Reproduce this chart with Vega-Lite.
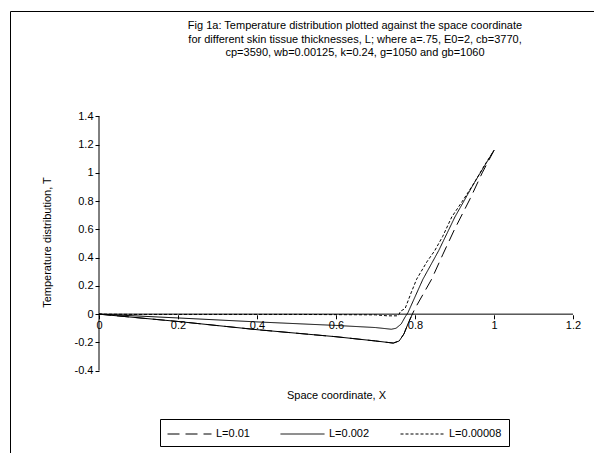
{
  "$schema": "https://vega.github.io/schema/vega-lite/v6.json",
  "width": 586,
  "height": 445,
  "autosize": {"type": "none"},
  "padding": {"left": 10, "top": 11, "right": -2, "bottom": -2},
  "background": "white",
  "config": {
    "view": {"stroke": "black", "strokeWidth": 1},
    "font": "Liberation Sans"
  },
  "title": {
    "text": [
      "Fig 1a: Temperature distribution plotted against the space coordinate",
      "for different skin tissue thicknesses, L; where a=.75, E0=2, cb=3770,",
      "cp=3590, wb=0.00125, k=0.24, g=1050 and gb=1060"
    ],
    "font": "Liberation Sans",
    "fontSize": 11,
    "fontWeight": "normal",
    "color": "black",
    "anchor": "middle",
    "frame": "group",
    "baseline": "top",
    "offset": -47,
    "dx": 52,
    "lineHeight": 13.5
  },
  "datasets": {
    "axes": [
      {"x": 0, "x2": 1.2, "y": 0, "y2": 0},
      {"x": 0, "x2": 0, "y": -0.4, "y2": 1.4}
    ],
    "curves": [
      {"series": "L=0.01", "i": 0, "x": 0, "y": 0},
      {"series": "L=0.01", "i": 1, "x": 0.2, "y": -0.052},
      {"series": "L=0.01", "i": 2, "x": 0.4, "y": -0.11},
      {"series": "L=0.01", "i": 3, "x": 0.6, "y": -0.16},
      {"series": "L=0.01", "i": 4, "x": 0.7, "y": -0.19},
      {"series": "L=0.01", "i": 5, "x": 0.745, "y": -0.205},
      {"series": "L=0.01", "i": 6, "x": 0.76, "y": -0.19},
      {"series": "L=0.01", "i": 7, "x": 0.772, "y": -0.14},
      {"series": "L=0.01", "i": 8, "x": 0.782, "y": -0.07},
      {"series": "L=0.01", "i": 9, "x": 0.79, "y": -0.02},
      {"series": "L=0.01", "i": 10, "x": 0.8, "y": 0.04},
      {"series": "L=0.01", "i": 11, "x": 0.842, "y": 0.247},
      {"series": "L=0.01", "i": 12, "x": 0.87, "y": 0.42},
      {"series": "L=0.01", "i": 13, "x": 0.9, "y": 0.6},
      {"series": "L=0.01", "i": 14, "x": 0.94, "y": 0.82},
      {"series": "L=0.01", "i": 15, "x": 0.97, "y": 1.0},
      {"series": "L=0.01", "i": 16, "x": 1.0, "y": 1.16},
      {"series": "L=0.002", "i": 0, "x": 0, "y": 0},
      {"series": "L=0.002", "i": 1, "x": 0.2, "y": -0.027},
      {"series": "L=0.002", "i": 2, "x": 0.4, "y": -0.055},
      {"series": "L=0.002", "i": 3, "x": 0.6, "y": -0.08},
      {"series": "L=0.002", "i": 4, "x": 0.7, "y": -0.095},
      {"series": "L=0.002", "i": 5, "x": 0.74, "y": -0.107},
      {"series": "L=0.002", "i": 6, "x": 0.752, "y": -0.1},
      {"series": "L=0.002", "i": 7, "x": 0.765, "y": -0.07},
      {"series": "L=0.002", "i": 8, "x": 0.775, "y": -0.02},
      {"series": "L=0.002", "i": 9, "x": 0.782, "y": 0.01},
      {"series": "L=0.002", "i": 10, "x": 0.82, "y": 0.247},
      {"series": "L=0.002", "i": 11, "x": 0.86, "y": 0.45},
      {"series": "L=0.002", "i": 12, "x": 0.901, "y": 0.688},
      {"series": "L=0.002", "i": 13, "x": 0.95, "y": 0.93},
      {"series": "L=0.002", "i": 14, "x": 1.0, "y": 1.16},
      {"series": "L=0.00008", "i": 0, "x": 0, "y": 0},
      {"series": "L=0.00008", "i": 1, "x": 0.1, "y": -0.002},
      {"series": "L=0.00008", "i": 2, "x": 0.3, "y": -0.002},
      {"series": "L=0.00008", "i": 3, "x": 0.5, "y": -0.002},
      {"series": "L=0.00008", "i": 4, "x": 0.7, "y": -0.005},
      {"series": "L=0.00008", "i": 5, "x": 0.73, "y": -0.012},
      {"series": "L=0.00008", "i": 6, "x": 0.755, "y": -0.012},
      {"series": "L=0.00008", "i": 7, "x": 0.76, "y": 0.0},
      {"series": "L=0.00008", "i": 8, "x": 0.763, "y": 0.02},
      {"series": "L=0.00008", "i": 9, "x": 0.775, "y": 0.04},
      {"series": "L=0.00008", "i": 10, "x": 0.79, "y": 0.15},
      {"series": "L=0.00008", "i": 11, "x": 0.804, "y": 0.247},
      {"series": "L=0.00008", "i": 12, "x": 0.83, "y": 0.37},
      {"series": "L=0.00008", "i": 13, "x": 0.85, "y": 0.45},
      {"series": "L=0.00008", "i": 14, "x": 0.87, "y": 0.55},
      {"series": "L=0.00008", "i": 15, "x": 0.893, "y": 0.688},
      {"series": "L=0.00008", "i": 16, "x": 0.92, "y": 0.8},
      {"series": "L=0.00008", "i": 17, "x": 0.95, "y": 0.93},
      {"series": "L=0.00008", "i": 18, "x": 0.975, "y": 1.05},
      {"series": "L=0.00008", "i": 19, "x": 1.0, "y": 1.16}
    ]
  },
  "encoding": {
    "x": {
      "field": "x",
      "type": "quantitative",
      "scale": {"domain": [-0.22532, 1.25822], "nice": false, "zero": false},
      "axis": {
        "values": [0, 0.2, 0.4, 0.6, 0.8, 1, 1.2],
        "offset": -141.2,
        "domain": false,
        "grid": false,
        "tickSize": 4,
        "tickColor": "black",
        "labelFont": "Liberation Sans",
        "labelFontSize": 11,
        "labelColor": "black",
        "labelPadding": 1,
        "labelFlush": false,
        "labelOverlap": false,
        "labelExpr": "replace(format(datum.value, '~g'), '\u2212', '-')",
        "title": "Space coordinate, X",
        "titleFont": "Liberation Sans",
        "titleFontSize": 11,
        "titleFontWeight": "normal",
        "titleColor": "black",
        "titleX": 326,
        "titleY": 81,
        "titleBaseline": "middle",
        "titleAlign": "center"
      }
    },
    "y": {
      "field": "y",
      "type": "quantitative",
      "scale": {"domain": [-1.00473, 2.14704], "nice": false, "zero": false},
      "axis": {
        "values": [-0.4, -0.2, 0, 0.2, 0.4, 0.6, 0.8, 1, 1.2, 1.4],
        "offset": -89,
        "domain": false,
        "grid": false,
        "tickSize": 4,
        "tickColor": "black",
        "labelFont": "Liberation Sans",
        "labelFontSize": 11,
        "labelColor": "black",
        "labelPadding": 2,
        "labelOverlap": false,
        "labelFlush": false,
        "labelExpr": "replace(format(datum.value, '~g'), '\u2212', '-')",
        "title": "Temperature distribution, T",
        "titleFont": "Liberation Sans",
        "titleFontSize": 11,
        "titleFontWeight": "normal",
        "titleColor": "black",
        "titleX": -52,
        "titleY": 231,
        "titleBaseline": "middle",
        "titleAlign": "center",
        "titleAngle": -90
      }
    }
  },
  "layer": [
    {
      "data": {"name": "axes"},
      "mark": {"type": "rule", "color": "black", "strokeWidth": 1},
      "encoding": {
        "x2": {"field": "x2"},
        "y2": {"field": "y2"}
      }
    },
    {
      "data": {"name": "curves"},
      "mark": {"type": "line", "color": "black", "strokeWidth": 1},
      "encoding": {
        "order": {"field": "i", "type": "quantitative"},
        "strokeDash": {
          "field": "series",
          "type": "nominal",
          "scale": {
            "domain": ["L=0.01", "L=0.002", "L=0.00008"],
            "range": [[12, 6], [1, 0], [3, 2]]
          },
          "legend": {
            "orient": "none",
            "legendX": 150,
            "legendY": 408,
            "direction": "horizontal",
            "title": null,
            "strokeColor": "black",
            "fillColor": "white",
            "padding": 7,
            "labelFont": "Liberation Sans",
            "labelFontSize": 11,
            "labelColor": "black",
            "labelOffset": 33,
            "columnPadding": 28,
            "symbolType": "M-1,0H4.867",
            "symbolSize": 225,
            "symbolStrokeWidth": 1,
            "symbolStrokeColor": "black"
          }
        }
      }
    },
    {
      "data": {"name": "curves"},
      "transform": [
        {"filter": "datum.series == 'L=0.01' && datum.x <= 0.79"}
      ],
      "mark": {"type": "line", "color": "black", "strokeWidth": 1},
      "encoding": {
        "order": {"field": "i", "type": "quantitative"}
      }
    }
  ]
}
